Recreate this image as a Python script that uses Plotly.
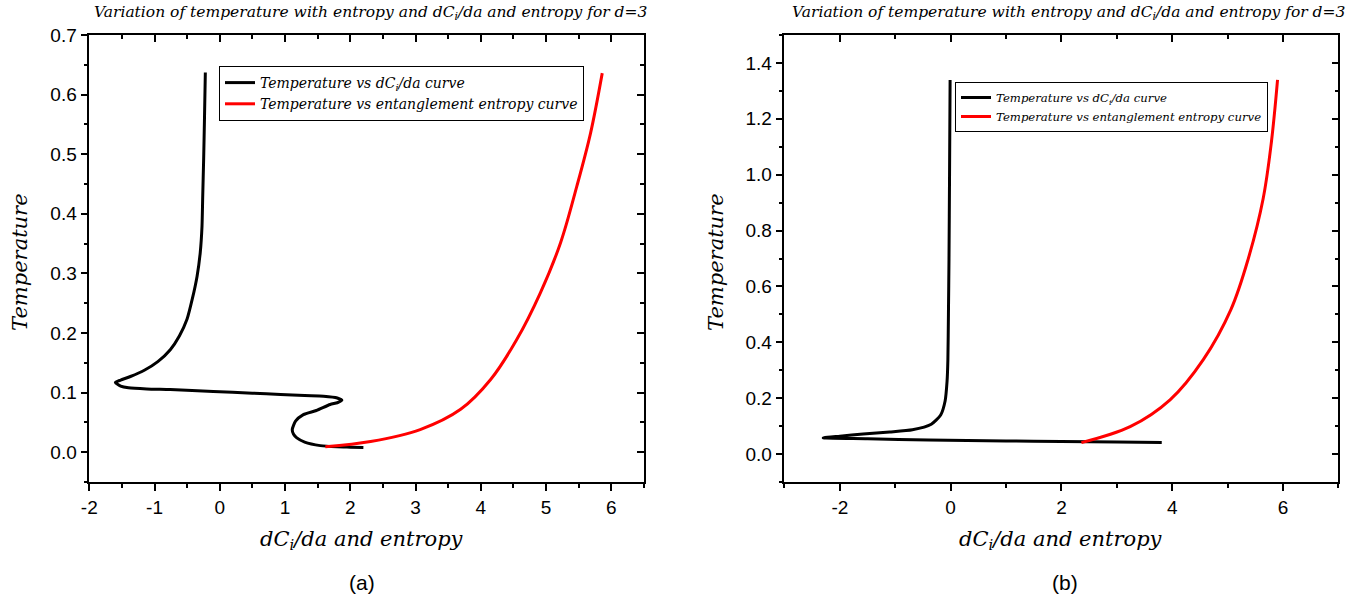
import plotly.graph_objects as go

# ---------------- data ----------------
# Panel (a)
a_dc = [-0.222, -0.235, -0.248, -0.262, -0.273, -0.30, -0.349, -0.42, -0.503, -0.62,
        -0.759, -0.95, -1.15, -1.37, -1.52, -1.60, -1.52, -1.40, -1.12, -0.76,
        -0.10, 0.50, 0.93, 1.30, 1.59, 1.80, 1.87, 1.80, 1.69, 1.48,
        1.28, 1.16, 1.11, 1.13, 1.18, 1.30, 1.54, 1.80, 2.00, 2.20]
a_T = [0.637, 0.560, 0.491, 0.430, 0.379, 0.335, 0.295, 0.258, 0.223, 0.195,
       0.172, 0.152, 0.138, 0.127, 0.121, 0.117, 0.111, 0.108, 0.106, 0.105,
       0.102, 0.099, 0.097, 0.095, 0.094, 0.091, 0.087, 0.083, 0.080, 0.070,
       0.063, 0.052, 0.038, 0.030, 0.024, 0.017, 0.011, 0.009, 0.0085, 0.008]
a_S = [1.617, 2.31, 3.07, 3.69, 4.15, 4.55, 4.91, 5.22, 5.47, 5.68, 5.86]
a_TS = [0.009, 0.018, 0.038, 0.072, 0.122, 0.189, 0.267, 0.351, 0.446, 0.535, 0.636]

# Panel (b)
b_dc = [-0.01, -0.02, -0.03, -0.04, -0.05, -0.065, -0.10, -0.18, -0.35, -0.69,
        -1.10, -1.58, -2.00, -2.30, -1.50, -0.40, 1.00, 2.00, 3.00, 3.81]
b_T = [1.339, 1.000, 0.698, 0.500, 0.338, 0.260, 0.190, 0.140, 0.107, 0.087,
       0.079, 0.072, 0.064, 0.058, 0.055, 0.050, 0.047, 0.045, 0.043, 0.041]
b_S = [2.36, 3.24, 3.96, 4.56, 5.06, 5.37, 5.64, 5.79, 5.90]
b_TS = [0.041, 0.098, 0.194, 0.338, 0.518, 0.698, 0.914, 1.118, 1.339]

# tick values / labels (hyphen-minus as in the reference)
a_xtickvals = [-2, -1, 0, 1, 2, 3, 4, 5, 6]
a_xticktext = ["-2", "-1", "0", "1", "2", "3", "4", "5", "6"]
a_ytickvals = [0.0, 0.1, 0.2, 0.3, 0.4, 0.5, 0.6, 0.7]
a_yticktext = ["0.0", "0.1", "0.2", "0.3", "0.4", "0.5", "0.6", "0.7"]
b_xtickvals = [-2, 0, 2, 4, 6]
b_xticktext = ["-2", "0", "2", "4", "6"]
b_ytickvals = [0.0, 0.2, 0.4, 0.6, 0.8, 1.0, 1.2, 1.4]
b_yticktext = ["0.0", "0.2", "0.4", "0.6", "0.8", "1.0", "1.2", "1.4"]

names = ["Temperature vs dC<sub>i</sub>/da curve",
         "Temperature vs entanglement entropy curve"]
title_text = "Variation of temperature with entropy and dC<sub>i</sub>/da and entropy for d=3"
xlab = "dC<sub>i</sub>/da and entropy"
ylab = "Temperature"

SERIF = "DejaVu Serif"
SANS = "Liberation Sans, Arial, sans-serif"

fig = go.Figure()

blk = dict(shape="spline", smoothing=0.6)
red = dict(shape="spline", smoothing=1.0)
fig.add_trace(go.Scatter(x=a_dc, y=a_T, mode="lines", name=names[0],
                         line=dict(color="black", width=3, **blk),
                         xaxis="x", yaxis="y", legend="legend"))
fig.add_trace(go.Scatter(x=a_S, y=a_TS, mode="lines", name=names[1],
                         line=dict(color="red", width=3, **red),
                         xaxis="x", yaxis="y", legend="legend"))
fig.add_trace(go.Scatter(x=b_dc, y=b_T, mode="lines", name=names[0],
                         line=dict(color="black", width=3, **blk),
                         xaxis="x2", yaxis="y2", legend="legend2"))
fig.add_trace(go.Scatter(x=b_S, y=b_TS, mode="lines", name=names[1],
                         line=dict(color="red", width=3, **red),
                         xaxis="x2", yaxis="y2", legend="legend2"))

# dummy traces for mirrored axes (inward ticks on top / right)
for xa, ya in [("x3", "y3"), ("x4", "y4")]:
    fig.add_trace(go.Scatter(x=[None], y=[None], xaxis=xa, yaxis=ya,
                             showlegend=False, hoverinfo="skip"))

tickfont = dict(family=SANS, size=19, color="black")


def ax(rng, tv, tt, mdtick, domain, anchor, side=None, ticks="outside",
       labels=True, overlaying=None):
    d = dict(range=rng, tickmode="array", tickvals=tv, ticktext=tt,
             showline=True, linecolor="black", linewidth=1.5, ticks=ticks,
             ticklen=7, tickwidth=1.5, tickcolor="black", automargin=False,
             showgrid=False, zeroline=False, showticklabels=labels,
             tickfont=tickfont, anchor=anchor, fixedrange=True,
             minor=dict(dtick=mdtick, tick0=0, ticks=ticks, ticklen=4,
                        tickwidth=1.5, tickcolor="black", showgrid=False))
    if overlaying is None:
        d["domain"] = domain
    else:
        d["overlaying"] = overlaying
    if side:
        d["side"] = side
    return d

dom_a = [0.0662, 0.4774]
dom_b = [0.5815, 0.9922]

fig.update_layout(
    template="none",
    width=1349, height=605,
    margin=dict(l=0, r=0, t=35, b=123, pad=0, autoexpand=False),
    paper_bgcolor="white", plot_bgcolor="white",
    showlegend=True,
    xaxis=ax([-2, 6.5], a_xtickvals, a_xticktext, 0.5, dom_a, "y"),
    yaxis=ax([-0.05, 0.7], a_ytickvals, a_yticktext, 0.05, [0, 1], "x"),
    xaxis2=ax([-3, 7], b_xtickvals, b_xticktext, 1, dom_b, "y2"),
    yaxis2=ax([-0.1, 1.5], b_ytickvals, b_yticktext, 0.1, [0, 1], "x2"),
    xaxis3=ax([-2, 6.5], a_xtickvals, a_xticktext, 0.5, None, "y", side="top",
              ticks="inside", labels=False, overlaying="x"),
    yaxis3=ax([-0.05, 0.7], a_ytickvals, a_yticktext, 0.05, None, "x", side="right",
              ticks="inside", labels=False, overlaying="y"),
    xaxis4=ax([-3, 7], b_xtickvals, b_xticktext, 1, None, "y2", side="top",
              ticks="inside", labels=False, overlaying="x2"),
    yaxis4=ax([-0.1, 1.5], b_ytickvals, b_yticktext, 0.1, None, "x2", side="right",
              ticks="inside", labels=False, overlaying="y2"),
    legend=dict(x=219 / 1349, y=(482 - 66) / 447, xanchor="left", yanchor="top",
                bordercolor="black", borderwidth=1, bgcolor="rgba(255,255,255,0)",
                font=dict(family=SERIF, size=14, color="black", style="italic"),
                itemwidth=30, tracegroupgap=0),
    legend2=dict(x=955 / 1349, y=(482 - 82) / 447, xanchor="left", yanchor="top",
                 bordercolor="black", borderwidth=1, bgcolor="rgba(255,255,255,0)",
                 font=dict(family=SERIF, size=11.7, color="black", style="italic"),
                 itemwidth=30, tracegroupgap=0),
)


def ytop(px):
    return (482 - px) / 447

ann = []
# titles
for cx in (370, 1068):
    ann.append(dict(text=title_text, x=cx / 1349, y=ytop(13), xref="paper", yref="paper",
                    xanchor="center", yanchor="middle", showarrow=False,
                    font=dict(family=SERIF, size=15.5, color="black", style="italic")))
# axis titles
for cx in (362, 1061):
    ann.append(dict(text=xlab, x=cx / 1349, y=ytop(540), xref="paper", yref="paper",
                    xanchor="center", yanchor="middle", showarrow=False,
                    font=dict(family=SERIF, size=21, color="black", style="italic")))
for cx in (20, 716):
    ann.append(dict(text=ylab, x=cx / 1349, y=ytop(262), xref="paper", yref="paper",
                    xanchor="center", yanchor="middle", textangle=-90, showarrow=False,
                    font=dict(family=SERIF, size=21, color="black", style="italic")))
# panel labels
for cx, lab in ((362, "(a)"), (1065, "(b)")):
    ann.append(dict(text=lab, x=cx / 1349, y=ytop(582), xref="paper", yref="paper",
                    xanchor="center", yanchor="middle", showarrow=False,
                    font=dict(family=SANS, size=21, color="black")))
fig.update_layout(annotations=ann)

fig.write_html("out.html")
